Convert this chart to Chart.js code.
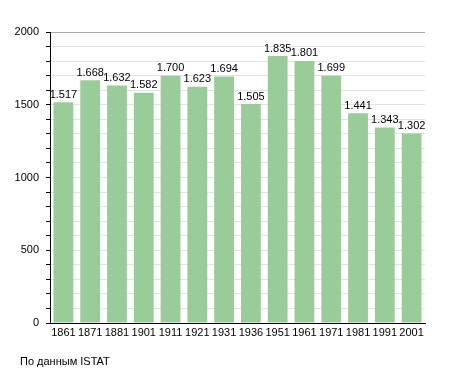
<!DOCTYPE html>
<html><head><meta charset="utf-8">
<script src="https://cdn.jsdelivr.net/npm/chart.js@4/dist/chart.umd.min.js"></script>
<style>
html,body{margin:0;padding:0;background:#fff;}
#wrap{position:relative;width:455px;height:373px;}
#foot{position:absolute;left:20px;top:355px;font:11px "Liberation Sans",Arial,sans-serif;color:#000;white-space:pre;}
</style></head>
<body>
<div id="wrap"><canvas id="c" width="455" height="373"></canvas><div id="foot">По данным ISTAT</div></div>
<script>
const years = ["1861","1871","1881","1901","1911","1921","1931","1936","1951","1961","1971","1981","1991","2001"];
const population = [1517,1668,1632,1582,1700,1623,1694,1505,1835,1801,1699,1441,1343,1302];
const yMajorStep = 500;

function fmt(v){ return String(v).replace(/\B(?=(\d{3})+(?!\d))/g, "."); }

const valueLabels = {
  id:'valueLabels',
  afterDatasetsDraw(chart){
    const ctx = chart.ctx;
    const meta = chart.getDatasetMeta(0);
    ctx.save();
    ctx.font = '11px "Liberation Sans", Arial, sans-serif';
    ctx.fillStyle = '#000';
    ctx.textAlign = 'center';
    ctx.textBaseline = 'bottom';
    meta.data.forEach((bar,i)=>{
      ctx.fillText(fmt(population[i]), bar.x, bar.y - 2);
    });
    ctx.restore();
  }
};

new Chart(document.getElementById('c'), {
  type:'bar',
  data:{ labels: years, datasets:[{ data: population, backgroundColor:'#99cc99', borderWidth:0, barPercentage:0.74, categoryPercentage:1.0 }]},
  options:{
    responsive:false, animation:false,
    layout:{ padding:{ left:0, right:30, top:32, bottom:0 } },
    plugins:{ legend:{display:false}, tooltip:{enabled:false} },
    scales:{
      x:{
        grid:{ display:true, drawOnChartArea:false, drawTicks:false },
        border:{ color:'#000', width:1 },
        ticks:{ color:'#000', font:{ size:11, family:'"Liberation Sans", Arial, sans-serif' }, padding:3, maxRotation:0, autoSkip:false },
        afterFit(s){ s.height = 50; }
      },
      y:{
        min:0, max:2000,
        grid:{
          color:(c)=> c.tick && c.tick.value===2000 ? '#aaaaaa' : (c.tick && c.tick.value===0 ? '#000' : '#e2e2e2'),
          tickColor:'#000', tickLength:4, drawTicks:true
        },
        border:{ color:'#000', width:1 },
        ticks:{ stepSize:100, autoSkip:false, color:'#000', padding:7,
          font:{ size:11, family:'"Liberation Sans", Arial, sans-serif' },
          callback:(v)=> v % yMajorStep === 0 ? String(v) : '' },
        afterFit(s){ s.width = 50; }
      }
    }
  },
  plugins:[valueLabels]
});
</script>
</body></html>
